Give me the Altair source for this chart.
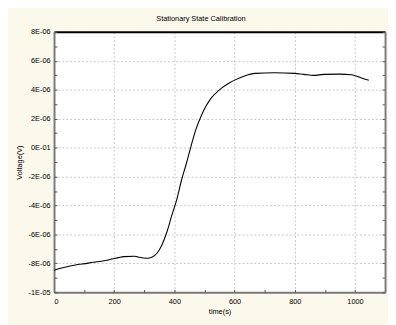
import altair as alt
import pandas as pd

# Data
time_s = [0, 49, 114, 180, 233, 266, 277, 309, 325, 342, 358, 375, 391, 408, 424,
          440, 456, 472, 489, 505, 521, 538, 560, 581, 602, 635, 668, 733, 799,
          830, 863, 896, 950, 988, 1004, 1026, 1046]
voltage_e6 = [-8.47, -8.20, -7.98, -7.76, -7.53, -7.50, -7.55, -7.64, -7.57, -7.30,
              -6.74, -5.83, -4.70, -3.57, -2.22, -1.08, 0.16, 1.29, 2.19, 2.87,
              3.39, 3.77, 4.16, 4.45, 4.68, 4.97, 5.13, 5.17, 5.13, 5.06, 4.99,
              5.06, 5.08, 5.04, 4.95, 4.77, 4.65]

x_major = [0, 200, 400, 600, 800, 1000]
x_minor = [0, 100, 200, 300, 400, 500, 600, 700, 800, 900, 1000, 1100]
y_major = [-1e-5, -8e-6, -6e-6, -4e-6, -2e-6, 0, 2e-6, 4e-6, 6e-6, 8e-6]
y_minor = [-1e-5, -9e-6, -8e-6, -7e-6, -6e-6, -5e-6, -4e-6, -3e-6, -2e-6, -1e-6,
           0, 1e-6, 2e-6, 3e-6, 4e-6, 5e-6, 6e-6, 7e-6, 8e-6]

df = pd.DataFrame({"t": time_s, "v": [v * 1e-6 for v in voltage_e6]})

FONT = "Liberation Sans"
GRID = "#c8c8c8"
AXIS_GRAY = "#7a7a7a"

x_scale = alt.Scale(domain=[0, 1100], nice=False, zero=False)
y_scale = alt.Scale(domain=[-1e-5, 8e-6], nice=False, zero=False)

y_label_expr = ("datum.value == 0 ? '0E-01' : (datum.value < -9.5e-6 ? '-1E-05' : "
                "(datum.value < 0 ? '-' : '') + round(abs(datum.value) * 1e6) + 'E-06')")

base = alt.Chart(df)

line = base.mark_line(color="black", strokeWidth=1.1, interpolate="monotone").encode(
    x=alt.X("t:Q", scale=x_scale, axis=alt.Axis(
        orient="bottom", values=x_major, format="d", title="time(s)", grid=True,
        gridColor=GRID, gridDash=[2, 2], gridWidth=1,
        domainColor=AXIS_GRAY, domainWidth=2, ticks=False,
        labelFont=FONT, labelFontSize=7.5, labelColor="black", labelPadding=5,
        titleFont=FONT, titleFontSize=7.5, titleFontWeight="normal",
        titleColor="black", titlePadding=3)),
    y=alt.Y("v:Q", scale=y_scale, axis=alt.Axis(
        orient="left", values=y_major, labelExpr=y_label_expr, title="Voltage(V)",
        grid=True, gridColor=GRID, gridDash=[2, 2], gridWidth=1,
        domainColor=AXIS_GRAY, domainWidth=2, ticks=False,
        labelFont=FONT, labelFontSize=7.5, labelColor="black", labelPadding=4,
        titleFont=FONT, titleFontSize=7.5, titleFontWeight="normal",
        titleColor="black", titlePadding=5)),
)

frame1 = base.mark_line(opacity=0).encode(
    x=alt.X("t:Q", scale=x_scale, axis=alt.Axis(
        orient="top", labels=False, ticks=False, grid=False, title="",
        domainColor="black", domainWidth=2)),
    y=alt.Y("v:Q", scale=y_scale, axis=alt.Axis(
        orient="left", offset=-338, values=y_minor, labels=False, grid=False,
        title="", ticks=True, tickSize=3, tickColor="#555555", tickWidth=1,
        domainColor=AXIS_GRAY, domainWidth=2)),
)

frame2 = base.mark_line(opacity=0).encode(
    x=alt.X("t:Q", scale=x_scale, axis=alt.Axis(
        orient="top", offset=-266, values=x_minor, labels=False, grid=False,
        title="", ticks=True, tickSize=3, tickColor="#555555", tickWidth=1,
        domain=False)),
    y=alt.Y("v:Q", scale=y_scale, axis=alt.Axis(
        orient="right", offset=-338, values=y_minor, labels=False, grid=False,
        title="", ticks=True, tickSize=3, tickColor="#555555", tickWidth=1,
        domain=False)),
)

chart = alt.layer(line, frame1, frame2).resolve_axis(
    x="independent", y="independent"
).properties(
    width=338,
    height=266,
    background="#fcf8ec",
    padding={"left": 47, "top": 21, "right": 3, "bottom": 30},
    autosize=alt.AutoSizeParams(type="none"),
    title=alt.TitleParams("Stationary State Calibration", font=FONT, fontSize=7.5,
                          fontWeight="normal", color="black", anchor="middle",
                          dx=-19, offset=6),
).configure_view(
    fill="white", stroke=None
)

chart.save("out.html", embed_options={"renderer": "svg", "actions": False})
